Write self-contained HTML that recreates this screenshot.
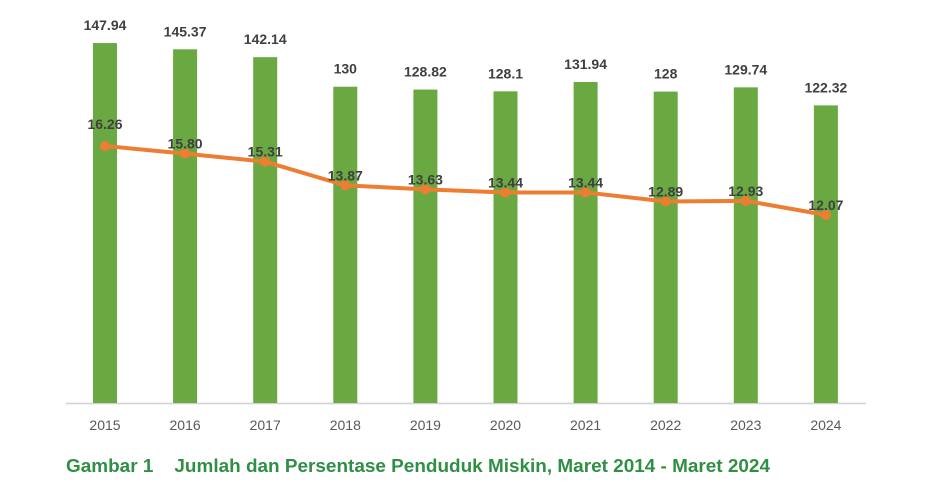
<!DOCTYPE html>
<html><head><meta charset="utf-8"><style>
body{margin:0;background:#fff;width:936px;height:489px;overflow:hidden;font-family:"Liberation Sans",sans-serif}
</style></head><body>
<svg id="c" width="936" height="489" xmlns="http://www.w3.org/2000/svg"></svg>
<script>
const years=["2015","2016","2017","2018","2019","2020","2021","2022","2023","2024"];
const counts=[147.94,145.37,142.14,130,128.82,128.1,131.94,128,129.74,122.32];
const countLabels=["147.94","145.37","142.14","130","128.82","128.1","131.94","128","129.74","122.32"];
const pcts=[16.26,15.80,15.31,13.87,13.63,13.44,13.44,12.89,12.93,12.07];
const pctLabels=["16.26","15.80","15.31","13.87","13.63","13.44","13.44","12.89","12.93","12.07"];
const svg=document.getElementById('c');const NS="http://www.w3.org/2000/svg";
function mk(t,a,p){const e=document.createElementNS(NS,t);for(const k in a)e.setAttribute(k,a[k]);(p||svg).appendChild(e);return e;}
const xS=i=>105+i*80.1;
const yB=v=>403-v*2.433;
const yL=v=>146-(v-16.26)*16.47;
const ax=mk('line',{x1:66,x2:866,y1:403.5,y2:403.5,stroke:'#d0d0d0','stroke-width':1.5});


counts.forEach((v,i)=>{
 const r=mk('rect',{x:xS(i)-12,y:yB(v),width:24,height:403-yB(v),fill:'#6aa842'});
 
 
 const t=mk('text',{x:xS(i),y:yB(v)-13,'text-anchor':'middle','font-size':14,'font-weight':'bold',fill:'#404040'});
 t.textContent=countLabels[i];
 
 
 const xl=mk('text',{x:xS(i),y:430,'text-anchor':'middle','font-size':14,fill:'#595959'});
 xl.textContent=years[i];
 
 
});
const pl=mk('polyline',{points:pcts.map((v,i)=>xS(i)+','+yL(v)).join(' '),fill:'none',stroke:'#ed7d31','stroke-width':4,'stroke-linejoin':'round'});


pcts.forEach((v,i)=>{
 const c=mk('circle',{cx:xS(i),cy:yL(v),r:5,fill:'#ed7d31'});
 
 
 const t=mk('text',{x:xS(i),y:yL(v)-13+ (i==0?-4:8),'text-anchor':'middle','font-size':14,'font-weight':'bold',fill:'#404040'});
 t.textContent=pctLabels[i];
 
 
});
const cap=mk('text',{x:66,y:472,'font-size':18,'font-weight':'bold',fill:'#2e8f45',textLength:704,lengthAdjust:'spacingAndGlyphs'});
cap.textContent="Gambar 1\u00a0\u00a0\u00a0 Jumlah dan Persentase Penduduk Miskin, Maret 2014 - Maret 2024";


</script>
</body></html>
